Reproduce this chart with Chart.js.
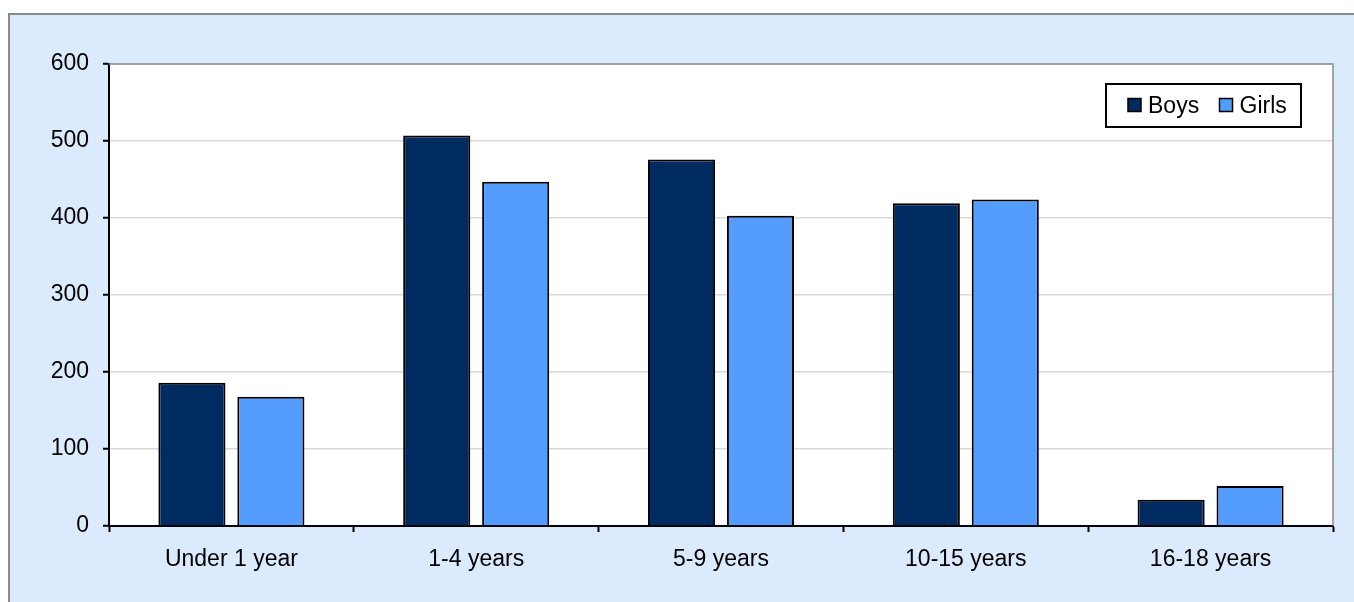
<!DOCTYPE html>
<html>
<head>
<meta charset="utf-8">
<script src="https://cdn.jsdelivr.net/npm/chart.js@4/dist/chart.umd.min.js"></script>
<style>
  html, body { margin: 0; padding: 0; background: #ffffff; overflow: hidden; }
  #frame {
    position: absolute; left: 8px; top: 13px; width: 1400px; height: 700px;
    background: #DCEAFD; border-left: 2px solid #8a8a8a; border-top: 2px solid #8a8a8a;
  }
  #wrap { position: absolute; left: 0; top: 0; width: 1354px; height: 602px; }
</style>
</head>
<body>
<div id="frame"></div>
<div id="wrap"><canvas id="chart" width="1354" height="602"></canvas></div>
<script>
const categories = ['Under 1 year', '1-4 years', '5-9 years', '10-15 years', '16-18 years'];
const boys = [186, 507, 476, 419, 34];
const girls = [168, 447, 403, 424, 52];
const yTicks = [0, 100, 200, 300, 400, 500, 600];

const FONT = '"Liberation Sans", Arial, sans-serif';
const BOYS_COLOR = '#002B60';
const GIRLS_COLOR = '#559CFF';

const plotDecor = {
  id: 'plotDecor',
  beforeDraw(chart) {
    const { ctx, chartArea: a } = chart;
    ctx.save();
    ctx.fillStyle = '#ffffff';
    ctx.fillRect(a.left, a.top, a.right - a.left, a.bottom - a.top);
    ctx.restore();
  },
  afterDraw(chart) {
    const { ctx, chartArea: a } = chart;
    ctx.save();
    // top and right edges of the plot
    ctx.strokeStyle = '#8a8a8a';
    ctx.lineWidth = 1.5;
    ctx.beginPath();
    ctx.moveTo(a.left, a.top);
    ctx.lineTo(a.right, a.top);
    ctx.lineTo(a.right, a.bottom);
    ctx.stroke();

    // boxed legend in the upper right of the plot
    const bx = 1106, by = 84, bw = 195, bh = 43;
    ctx.fillStyle = '#ffffff';
    ctx.fillRect(bx, by, bw, bh);
    ctx.strokeStyle = '#000000';
    ctx.lineWidth = 2;
    ctx.strokeRect(bx, by, bw, bh);
    ctx.font = '23px ' + FONT;
    ctx.textBaseline = 'alphabetic';
    const items = [
      { x: 1128, tx: 1148 },
      { x: 1219.5, tx: 1239.5 }
    ];
    chart.data.datasets.forEach((ds, i) => {
      const it = items[i];
      ctx.fillStyle = ds.backgroundColor;
      ctx.fillRect(it.x, 98.5, 13, 13);
      ctx.lineWidth = 1.5;
      ctx.strokeStyle = '#000';
      ctx.strokeRect(it.x, 98.5, 13, 13);
      ctx.fillStyle = '#000';
      ctx.fillText(ds.label, it.tx, 112.5);
    });
    ctx.restore();
  }
};

new Chart(document.getElementById('chart'), {
  type: 'bar',
  data: {
    labels: categories,
    datasets: [
      { label: 'Boys', data: boys, backgroundColor: BOYS_COLOR, borderColor: '#000', borderWidth: 2 },
      { label: 'Girls', data: girls, backgroundColor: GIRLS_COLOR, borderColor: '#000', borderWidth: 2 }
    ]
  },
  options: {
    responsive: false,
    animation: false,
    events: [],
    categoryPercentage: 0.645,
    barPercentage: 0.85,
    layout: { padding: { left: 0, right: 21, top: 64, bottom: 0 } },
    plugins: {
      legend: { display: false },
      tooltip: { enabled: false },
      title: { display: false }
    },
    scales: {
      x: {
        grid: { drawOnChartArea: false, tickColor: '#000', tickLength: 6, tickWidth: 2, offset: true },
        border: { color: '#000', width: 2 },
        ticks: { color: '#000', font: { family: FONT, size: 23 }, padding: 14, maxRotation: 0 },
        afterFit(scale) { scale.height = 76; }
      },
      y: {
        min: 0, max: 600,
        afterBuildTicks(scale) { scale.ticks = yTicks.map(v => ({ value: v })); },
        grid: { color: '#D9D9D9', lineWidth: 1.5, tickColor: '#000', tickLength: 6, tickWidth: 2 },
        border: { color: '#000', width: 2 },
        ticks: { color: '#000', font: { family: FONT, size: 23 }, padding: 14 },
        afterFit(scale) { scale.width = 109; }
      }
    }
  },
  plugins: [plotDecor]
});
</script>
</body>
</html>
